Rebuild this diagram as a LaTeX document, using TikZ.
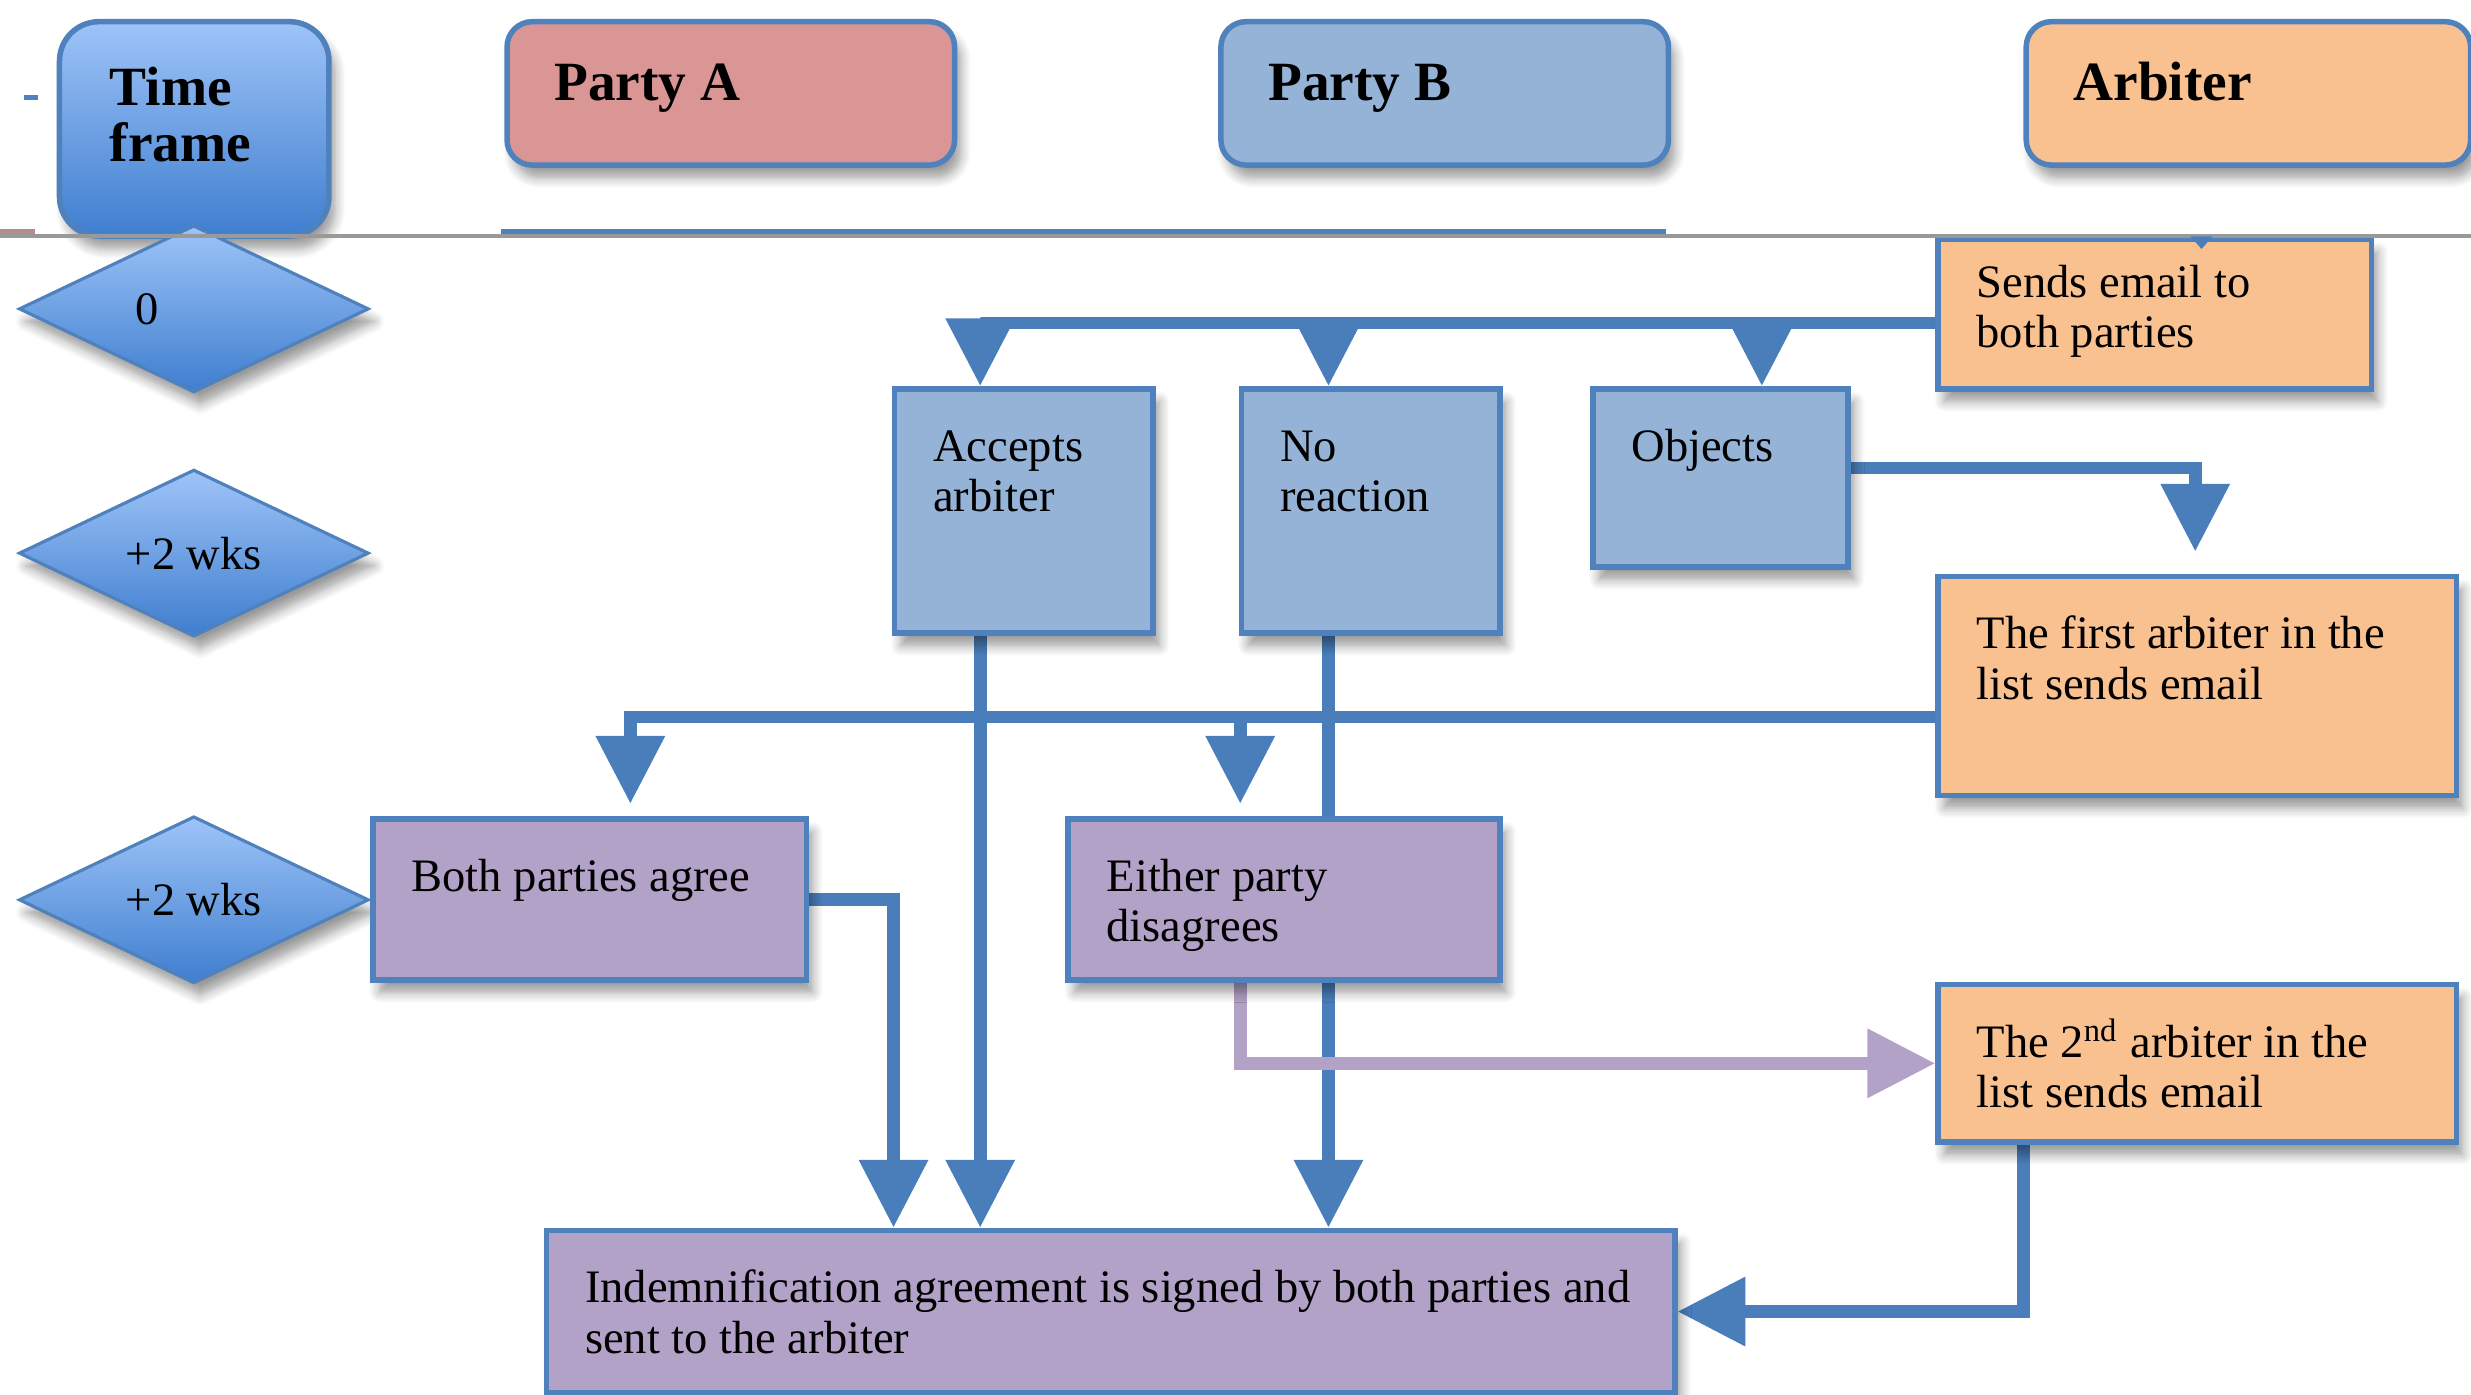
\documentclass[tikz,border=0pt]{standalone}
\usepackage{fontspec}
\setmainfont{Liberation Serif}
\usetikzlibrary{calc,arrows.meta,shapes.geometric,shadows.blur,backgrounds}

\definecolor{edgeblue}{HTML}{4F81BD}
\definecolor{flowblue}{HTML}{4A7EBB}
\definecolor{partyred}{HTML}{D99694}
\definecolor{partyblue}{HTML}{95B3D7}
\definecolor{arbiterorange}{HTML}{F9C090}
\definecolor{jointpurple}{HTML}{B2A2C7}
\definecolor{ticklight}{HTML}{9EC4F8}
\definecolor{tickdark}{HTML}{3F7ECF}

\newcommand{\bodyfont}{\fontsize{8.4}{9.1}\selectfont}
\newcommand{\headfont}{\fontsize{10}{10.2}\selectfont\bfseries}
\newcommand{\boxtext}[4][4.6mm]{\parbox[t][#3][t]{#2}{\rule{0pt}{#1}\begin{tabular}[t]{@{}l@{}}#4\end{tabular}}}

\tikzset{
  stage/.style={draw=edgeblue, line width=0.35mm, inner xsep=2.45mm, inner ysep=0pt,
    anchor=north west, font=\bodyfont,
    blur shadow={shadow xshift=0.4mm, shadow yshift=-0.8mm, shadow blur steps=6, shadow opacity=40}},
  lane/.style={stage, rounded corners=1.6mm, inner xsep=3mm, font=\headfont},
  tick/.style={diamond, aspect=2, draw=edgeblue, line width=0.2mm, top color=ticklight, bottom color=tickdark,
    minimum width=22.2mm, minimum height=10.6mm, inner sep=0pt, font=\bodyfont,
    blur shadow={shadow xshift=0.4mm, shadow yshift=-0.8mm, shadow blur steps=6, shadow opacity=40}},
  flow/.style={draw=flowblue, line width=0.8mm, -{Triangle[length=4.3mm,width=4.2mm]}},
}

\begin{document}
\begin{tikzpicture}[x=0.1mm, y=-0.1mm]
  %%%%% START %%%%%
  \useasboundingbox (0,0) rectangle (1568,885);

  % header row
  \node[lane, top color=ticklight, bottom color=tickdark, rounded corners=2.5mm, inner xsep=3.2mm] (time) at (36,12)
    {\boxtext[5.3mm]{10.7mm}{13.6mm}{Time\\frame}};
  \node[lane, fill=partyred] (pa) at (320,12) {\boxtext[5.0mm]{22.4mm}{9.1mm}{Party A}};
  \node[lane, fill=partyblue] (pb) at (773,12) {\boxtext[5.0mm]{22.4mm}{9.1mm}{Party B}};
  \node[lane, fill=arbiterorange] (arb) at (1284,12) {\boxtext[5.0mm]{22.2mm}{9.1mm}{Arbiter}};

  % time marks
  \node[tick] (t0) at (123,196) {\makebox[7.4mm][l]{0}};
  \node[tick] (t1) at (123,351) {+2 wks};
  \node[tick] (t2) at (123,571) {+2 wks};

  % steps
  \node[stage, fill=arbiterorange] (sends) at (1228,150) {\boxtext[3.7mm]{22.6mm}{9.5mm}{Sends email to\\both parties}};
  \node[stage, fill=partyblue] (acc) at (566,245) {\boxtext{11.5mm}{15.5mm}{Accepts\\arbiter}};
  \node[stage, fill=partyblue] (nore) at (786,245) {\boxtext{11.5mm}{15.5mm}{No\\reaction}};
  \node[stage, fill=partyblue] (obj) at (1009,245) {\boxtext{11.3mm}{11.3mm}{Objects}};
  \node[stage, fill=arbiterorange] (first) at (1228,364) {\boxtext{28mm}{13.9mm}{The first arbiter in the\\list sends email}};
  \node[stage, fill=jointpurple] (agree) at (235,518) {\boxtext{22.6mm}{10.2mm}{Both parties agree}};
  \node[stage, fill=jointpurple] (disag) at (676,518) {\boxtext{22.5mm}{10.2mm}{Either party\\disagrees}};
  \node[stage, fill=arbiterorange] (second) at (1228,623) {\boxtext{28mm}{10mm}{The 2\textsuperscript{nd} arbiter in the\\list sends email}};
  \node[stage, fill=jointpurple] (indem) at (345,779)
    {\boxtext{66.7mm}{10.3mm}{Indemnification agreement is signed by both parties and\\sent to the arbiter}};

  % connectors
  \begin{scope}[on background layer]
    \coordinate (mailbus) at ($(sends.north west)+(0,55)$);
    \coordinate (accin) at ($(acc.north west)+(56,0)$);
    \coordinate (norein) at ($(nore.north west)+(57,0)$);
    \coordinate (objin) at ($(obj.north west)+(109,0)$);
    \coordinate (objout) at ($(obj.north east)+(0,52)$);
    \coordinate (firstin) at ($(first.north west)+(165,0)$);
    \coordinate (votebus) at ($(first.north west)+(0,91)$);
    \coordinate (agreein) at ($(agree.north west)+(165,0)$);
    \coordinate (disagin) at ($(disag.north west)+(111,0)$);
    \coordinate (accout) at ($(acc.south west)+(56,0)$);
    \coordinate (noreout) at ($(nore.south west)+(57,0)$);
    \coordinate (indemin) at ($(indem.north west)+(222,0)$);
    \coordinate (disagout) at ($(disag.south west)+(111,0)$);
    \coordinate (secondout) at ($(second.south west)+(56,0)$);

    \draw[flow] (mailbus) -| (accin);
    \draw[flow] (norein |- mailbus) -- (norein);
    \draw[flow] (objin |- mailbus) -- (objin);
    \draw[flow, shorten >=1.4mm] (objout) -| (firstin);
    \draw[flow, shorten >=0.8mm] (votebus) -| (agreein);
    \draw[flow, shorten >=0.8mm] (disagin |- votebus) -- (disagin);
    \draw[flow] (accout) -- (accout |- indem.north);
    \draw[flow] (noreout) -- (noreout |- indem.north);
    \draw[flow] (agree.east) -| (indemin);
    \draw[flow] (secondout) |- (indem.east);
    \draw[flow, draw=jointpurple] (disagout) |- (second.west);
  \end{scope}

  % header edge
  \draw[black!40, line width=0.25mm] (0,150) -- (1568,150);
  \draw[edgeblue, line width=0.35mm] (318,147) -- (1057,147);
  \draw[partyred!60!gray, line width=0.35mm] (0,147) -- (22,147);
  \draw[edgeblue, line width=0.35mm] (15,62) -- (24,62);
  \fill[flowblue] (1390,150) -- (1404,150) -- (1397,158) -- cycle;

  %%%%% END %%%%%
\end{tikzpicture}
\end{document}
